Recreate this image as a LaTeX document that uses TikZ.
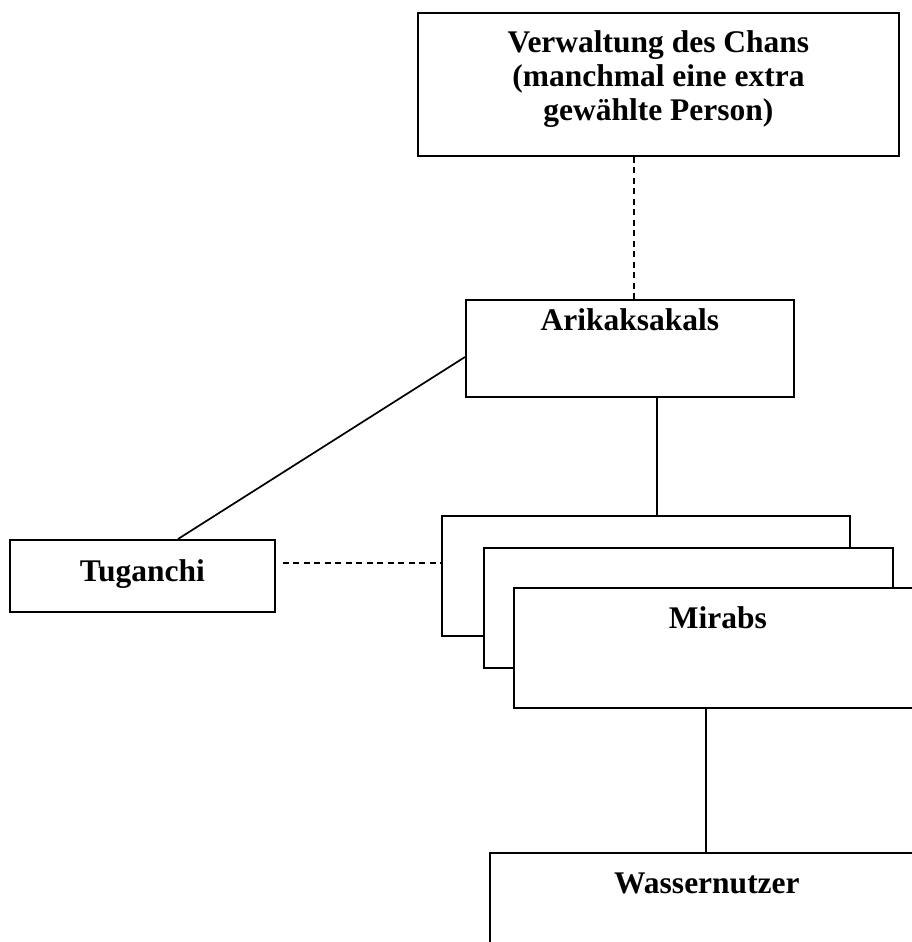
\documentclass[tikz,border=0pt]{standalone}
\usepackage{fontspec}
\setmainfont{Liberation Serif}
\begin{document}
\begin{tikzpicture}[x=1pt,y=-1pt,
  box/.style={draw, line width=1.9pt, fill=white, rectangle, inner sep=0pt, anchor=north west},
  txt/.style={font=\bfseries\fontsize{31.5}{34}\selectfont, inner sep=0pt, align=center},
  conn/.style={line width=1.7pt},
  dconn/.style={line width=1.5pt, dash pattern=on 6pt off 4.5pt}]
\useasboundingbox (0,0) rectangle (912,942);
\clip (0,0) rectangle (912,942);
% top box
\node[box, minimum width=481pt, minimum height=143pt,
  label={[txt,anchor=north,yshift=-18pt]north:Verwaltung des Chans\\(manchmal eine extra\\gewählte Person)}] (chan) at (417,12) {};
% Arikaksakals
\node[box, minimum width=328pt, minimum height=97pt,
  label={[txt,anchor=base,yshift=-31pt]north:Arikaksakals}] (arik) at (465,299) {};
% Tuganchi
\node[box, minimum width=265pt, minimum height=72pt,
  label={[txt,anchor=base,yshift=-42pt]north:Tuganchi}] (tug) at (9,539) {};
% Mirabs stack
\node[box, minimum width=408pt, minimum height=120pt] (mb1) at (441,515) {};
\node[box, minimum width=409pt, minimum height=120pt] (mb2) at (483,547) {};
\node[box, minimum width=408pt, minimum height=120pt,
  label={[txt,anchor=base,yshift=-41pt]north:Mirabs}] (mir) at (513,587) {};
% Wassernutzer
\node[box, minimum width=434pt, minimum height=140pt,
  label={[txt,anchor=base,yshift=-41pt]north:Wassernutzer}] (was) at (489,852) {};
% helper coordinates
\coordinate (xc1) at (634,0);
\coordinate (xc2) at (657,0);
\coordinate (xc3) at (706,0);
\coordinate (ya) at (0,357);
\coordinate (xt) at (178,0);
\coordinate (yt) at (0,563);
% connectors
\draw[dconn] (xc1 |- chan.south) -- (xc1 |- arik.north);
\draw[conn] (xc2 |- arik.south) -- (xc2 |- mb1.north);
\draw[conn] (arik.west |- ya) -- (xt |- tug.north);
\draw[dconn, shorten <=7pt] (tug.east |- yt) -- (mb1.west |- yt);
\draw[conn] (xc3 |- mir.south) -- (xc3 |- was.north);
\end{tikzpicture}
\end{document}
